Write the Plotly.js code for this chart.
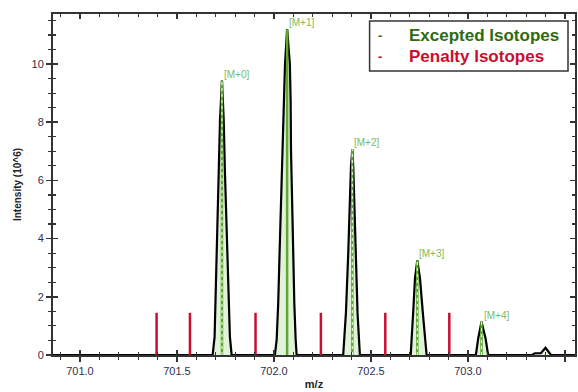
<!DOCTYPE html>
<html>
<head>
<meta charset="utf-8">
<script src="https://cdn.plot.ly/plotly-3.0.1.min.js"></script>
<style>html,body{margin:0;padding:0;background:#fff;}#chart{width:578px;height:392px;}</style>
</head>
<body>
<div id="chart"></div>
<script>
// Profile spectrum (m/z, intensity x10^6)
const profileMz = [700.861,
  701.684, 701.694, 701.703, 701.716, 701.722, 701.732, 701.741, 701.747, 701.761, 701.773, 701.782,
  702.005, 702.014, 702.022, 702.029, 702.036, 702.043, 702.052, 702.057, 702.068, 702.082, 702.086, 702.088, 702.094, 702.099, 702.105, 702.112, 702.117,
  702.357, 702.371, 702.383, 702.390, 702.397, 702.404, 702.409, 702.414, 702.421, 702.431, 702.443,
  702.705, 702.718, 702.727, 702.739, 702.753, 702.767, 702.787,
  703.041, 703.053, 703.070, 703.091, 703.104,
  703.330, 703.345, 703.376, 703.400, 703.428, 703.552];
const profileInt = [0,
  0, 0.62, 2.92, 6.36, 8.08, 9.43, 8.08, 6.36, 2.92, 0.62, 0,
  0, 0.52, 1.78, 3.5, 5.21, 7.04, 8.76, 10.0, 11.2, 10.0, 8.76, 7.04, 5.21, 3.5, 1.78, 0.52, 0,
  0, 1.44, 3.5, 5.33, 6.46, 7.07, 6.46, 5.33, 3.5, 1.44, 0,
  0, 1.49, 2.63, 3.26, 2.63, 1.49, 0,
  0, 0.57, 1.14, 0.57, 0,
  0, 0.06, 0.06, 0.25, 0, 0];

// Expected isotope centroids
const isoLabels = ["[M+0]", "[M+1]", "[M+2]", "[M+3]", "[M+4]"];
const isoMz = [701.732, 702.068, 702.404, 702.739, 703.070];
const isoInt = [9.43, 11.2, 7.07, 3.26, 1.14];
const isoDashed = [true, false, true, true, true];

// Penalty isotopes
const penaltyMz = [701.395, 701.567, 701.905, 702.242, 702.574, 702.904];
const penaltyInt = [1.45, 1.45, 1.45, 1.45, 1.45, 1.45];

const legendTexts = ["Excepted Isotopes", "Penalty Isotopes"];

function sticks(xs, ys, filter) {
  const X = [], Y = [];
  xs.forEach((x, i) => {
    if (filter && !filter[i]) return;
    X.push(x, x, null); Y.push(0, ys[i], null);
  });
  return {X, Y};
}

const traces = [];
traces.push({
  x: profileMz, y: profileInt, type: 'scatter', mode: 'lines',
  line: {color: '#000', width: 2.2},
  fill: 'tozeroy', fillcolor: 'rgba(200,232,185,0.55)',
  hoverinfo: 'skip', showlegend: false
});
const g = sticks(isoMz, isoInt);
traces.push({x: g.X, y: g.Y, type: 'scatter', mode: 'lines',
  line: {color: '#5da832', width: 2.5}, hoverinfo: 'skip', showlegend: false});
const w = sticks(isoMz, isoInt, isoDashed);
traces.push({x: w.X, y: w.Y, type: 'scatter', mode: 'lines',
  line: {color: '#ffffff', width: 1, dash: '3px,3px'}, hoverinfo: 'skip', showlegend: false});
const p = sticks(penaltyMz, penaltyInt);
traces.push({x: p.X, y: p.Y, type: 'scatter', mode: 'lines',
  line: {color: '#c8102e', width: 2.5}, hoverinfo: 'skip', showlegend: false});
// dummy for overlay axes
traces.push({x: [701], y: [0], xaxis: 'x2', yaxis: 'y2', type: 'scatter', mode: 'markers',
  marker: {opacity: 0}, hoverinfo: 'skip', showlegend: false});

const xr = [700.861, 703.552], yr = [0, 11.72];
const axColor = '#333';
const tickFont = {family: 'Liberation Sans, Arial, sans-serif', size: 11, color: '#30304e'};

const annotations = isoLabels.map((t, i) => ({
  x: isoMz[i], y: isoInt[i], xref: 'x', yref: 'y', text: t, showarrow: false,
  xanchor: 'left', yanchor: 'bottom', xshift: 0, yshift: -1,
  font: {family: 'Liberation Sans, Arial, sans-serif', size: 10, color: '#7cb95c'}
}));
const legColors = ['#2e6b12', '#c8102e'];
const legY = [0.937, 0.875];
legendTexts.forEach((t, i) => {
  annotations.push({x: 0.627, y: legY[i], xref: 'paper', yref: 'paper', text: '<b>-</b>', showarrow: false,
    xanchor: 'center', yanchor: 'middle', font: {family: 'Liberation Sans, Arial, sans-serif', size: 13, color: legColors[i]}});
  annotations.push({x: 0.679, y: legY[i], xref: 'paper', yref: 'paper', text: '<b>' + t + '</b>', showarrow: false,
    xanchor: 'left', yanchor: 'middle', font: {family: 'Liberation Sans, Arial, sans-serif', size: 17, color: legColors[i]}});
});

const layout = {
  width: 578, height: 392,
  margin: {l: 53, r: 3, t: 14, b: 37},
  paper_bgcolor: '#fff', plot_bgcolor: '#fff',
  showlegend: false,
  xaxis: {
    range: xr, tick0: 701, dtick: 0.5, tickformat: '.1f',
    ticks: 'outside', ticklen: 5, tickwidth: 1.5, tickcolor: axColor,
    minor: {dtick: 0.1, ticks: 'outside', ticklen: 3, tickwidth: 1.2, tickcolor: axColor},
    showline: true, linecolor: axColor, linewidth: 2, showgrid: false, zeroline: false,
    tickfont: tickFont,
    title: {text: '<b>m/z</b>', font: {family: 'Liberation Sans, Arial, sans-serif', size: 11, color: '#222'}, standoff: 4}
  },
  xaxis2: {
    overlaying: 'x', range: xr, tick0: 701, dtick: 0.5, showticklabels: false,
    ticks: 'inside', ticklen: 5, tickwidth: 1.5, tickcolor: axColor, mirror: 'ticks',
    minor: {dtick: 0.1, ticks: 'inside', ticklen: 3, tickwidth: 1.2, tickcolor: axColor},
    showline: true, linecolor: axColor, linewidth: 2, showgrid: false, zeroline: false
  },
  yaxis: {
    range: yr, tick0: 0, dtick: 2,
    ticks: 'outside', ticklen: 5, tickwidth: 1.5, tickcolor: axColor,
    minor: {dtick: 0.5, ticks: 'outside', ticklen: 3, tickwidth: 1.2, tickcolor: axColor},
    showline: true, linecolor: axColor, linewidth: 2, showgrid: false, zeroline: false,
    tickfont: tickFont,
    title: {text: '<b>Intensity (10^6)</b>', font: {family: 'Liberation Sans, Arial, sans-serif', size: 10, color: '#222'}, standoff: 8}
  },
  yaxis2: {
    overlaying: 'y', range: yr, tick0: 0, dtick: 2, showticklabels: false,
    ticks: 'inside', ticklen: 5, tickwidth: 1.5, tickcolor: axColor, mirror: 'ticks',
    minor: {dtick: 0.5, ticks: 'inside', ticklen: 3, tickwidth: 1.2, tickcolor: axColor},
    showline: true, linecolor: axColor, linewidth: 2, showgrid: false, zeroline: false
  },
  shapes: [{type: 'rect', xref: 'paper', yref: 'paper', x0: 0.6065, x1: 0.9866, y0: 0.8328, y1: 0.9795,
    line: {color: '#333', width: 1.5}, fillcolor: '#fff', layer: 'above'}],
  annotations: annotations
};

Plotly.newPlot('chart', traces, layout, {displayModeBar: false, staticPlot: true});
</script>
</body>
</html>
